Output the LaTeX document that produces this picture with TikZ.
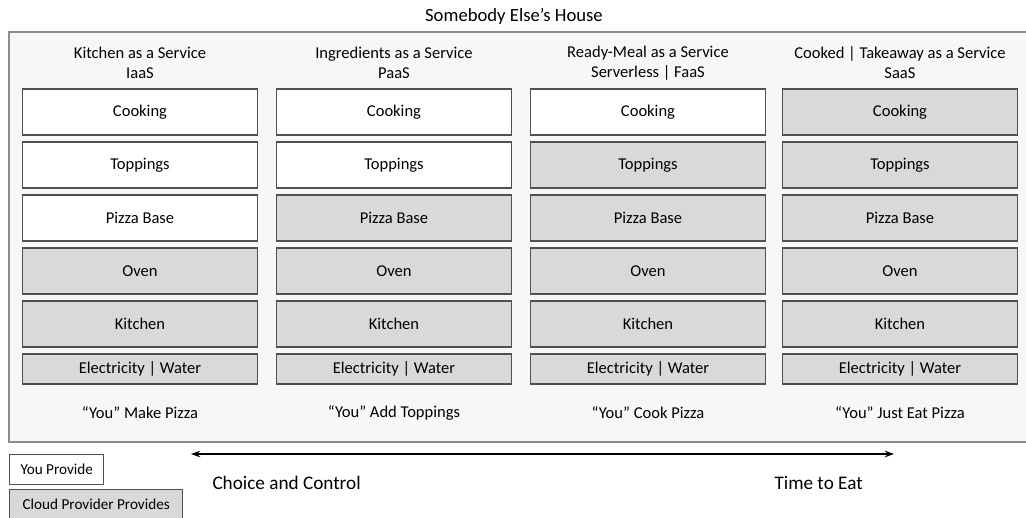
\documentclass[tikz,border=0pt]{standalone}
\usepackage{fontspec}
\setmainfont{Carlito}
\usetikzlibrary{arrows.meta}

\definecolor{houseFill}{RGB}{247,247,247}
\definecolor{houseLine}{RGB}{140,140,140}
\definecolor{boxLine}{RGB}{80,80,80}
\definecolor{boxGrey}{RGB}{217,217,217}

\tikzset{every picture/.style={line width=0.75pt}}
\tikzset{
	layer/.style={draw=boxLine, line width=1.1pt, minimum width=176pt, minimum height=34.5pt, inner sep=0pt, font=\fontsize{12.4}{15}\selectfont},
	mine/.style={layer, fill=white},
	theirs/.style={layer, fill=boxGrey},
	utility/.style={minimum height=22.5pt},
	caption/.style={align=center, font=\fontsize{12.4}{15}\selectfont},
	legend/.style={draw=boxLine, line width=1.1pt, inner sep=0pt, minimum height=22.5pt, font=\fontsize{11.4}{14}\selectfont}
}

\begin{document}
\begin{tikzpicture}[x=0.75pt,y=0.75pt,yscale=-1,xscale=1]
	\useasboundingbox (0,0) rectangle (1026,518);
	\clip (0,0) rectangle (1026,518);
	
	%Shape: Rectangle [id:house]
	\draw [draw=houseLine, fill=houseFill, line width=1.5pt] (9,32) rectangle (1032,442);
	% Text Node
	\node (house) at (514,16) [font=\fontsize{14}{17}\selectfont] {Somebody Else’s House};
	
	% Column 1 : IaaS
	\node (iaasHead) at (140,63) [caption] {Kitchen as a Service\\IaaS};
	\node (iaasCook) at (140,112) [mine] {Cooking};
	\node (iaasTop)  at (140,165) [mine] {Toppings};
	\node (iaasBase) at (140,218) [mine] {Pizza Base};
	\node (iaasOven) at (140,271) [theirs] {Oven};
	\node (iaasKit)  at (140,324) [theirs] {Kitchen};
	\node (iaasElec) at (140,369) [theirs, utility] {Electricity | Water};
	\node (iaasFoot) at (140,413) [caption] {“You” Make Pizza};
	
	% Column 2 : PaaS
	\node (paasHead) at (394,63) [caption] {Ingredients as a Service\\PaaS};
	\node (paasCook) at (394,112) [mine] {Cooking};
	\node (paasTop)  at (394,165) [mine] {Toppings};
	\node (paasBase) at (394,218) [theirs] {Pizza Base};
	\node (paasOven) at (394,271) [theirs] {Oven};
	\node (paasKit)  at (394,324) [theirs] {Kitchen};
	\node (paasElec) at (394,369) [theirs, utility] {Electricity | Water};
	\node (paasFoot) at (394,413) [caption] {“You” Add Toppings};
	
	% Column 3 : FaaS
	\node (faasHead) at (648,63) [caption] {Ready-Meal as a Service\\Serverless | FaaS};
	\node (faasCook) at (648,112) [mine] {Cooking};
	\node (faasTop)  at (648,165) [theirs] {Toppings};
	\node (faasBase) at (648,218) [theirs] {Pizza Base};
	\node (faasOven) at (648,271) [theirs] {Oven};
	\node (faasKit)  at (648,324) [theirs] {Kitchen};
	\node (faasElec) at (648,369) [theirs, utility] {Electricity | Water};
	\node (faasFoot) at (648,413) [caption] {“You” Cook Pizza};
	
	% Column 4 : SaaS
	\node (saasHead) at (900,63) [caption] {Cooked | Takeaway as a Service\\SaaS};
	\node (saasCook) at (900,112) [theirs] {Cooking};
	\node (saasTop)  at (900,165) [theirs] {Toppings};
	\node (saasBase) at (900,218) [theirs] {Pizza Base};
	\node (saasOven) at (900,271) [theirs] {Oven};
	\node (saasKit)  at (900,324) [theirs] {Kitchen};
	\node (saasElec) at (900,369) [theirs, utility] {Electricity | Water};
	\node (saasFoot) at (900,413) [caption] {“You” Just Eat Pizza};
	
	%Straight Lines [id:scale]
	\coordinate (choiceEnd) at (191,454);
	\coordinate (eatEnd) at (894,454);
	\draw [{Stealth[length=7pt,width=5pt]}-{Stealth[length=7pt,width=5pt]}, line width=1.1pt] (choiceEnd) -- (eatEnd);
	% Text Node
	\node (choice) at (212,483) [anchor=west, inner sep=0pt, font=\fontsize{14.4}{17}\selectfont] {Choice and Control};
	\node (eat) at (774,483) [anchor=west, inner sep=0pt, font=\fontsize{14.4}{17}\selectfont] {Time to Eat};
	
	% Legend
	\node (youKey) at (9,454) [legend, fill=white, anchor=north west, minimum width=70.5pt] {You Provide};
	\node (cloudKey) at (9,489) [legend, fill=boxGrey, anchor=north west, minimum width=129.75pt] {Cloud Provider Provides};
	
\end{tikzpicture}
\end{document}
